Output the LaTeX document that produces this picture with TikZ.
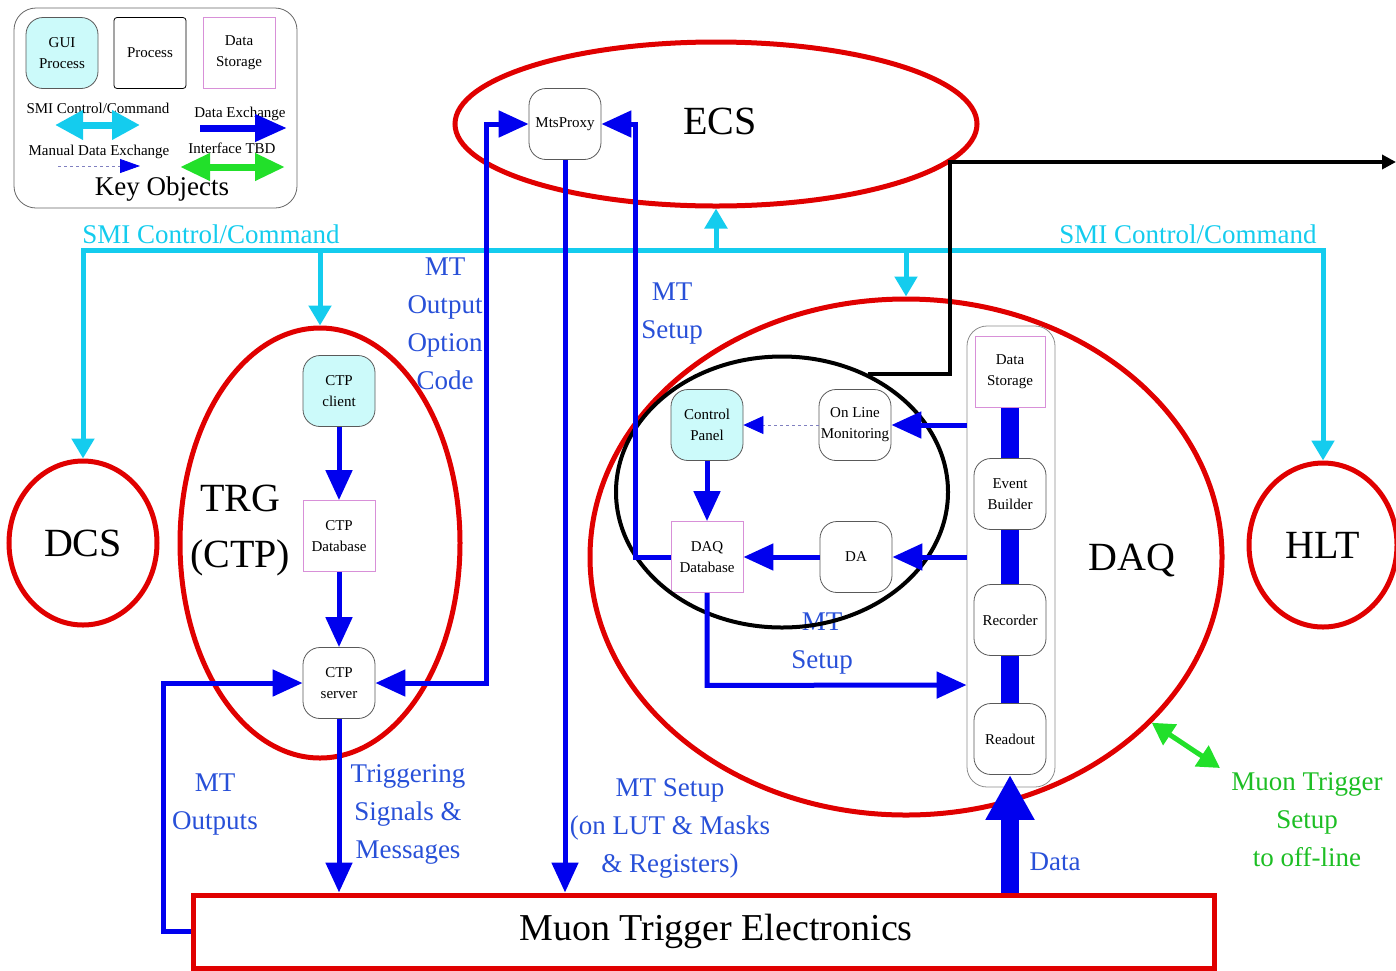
\documentclass[tikz,border=0pt]{standalone}
\usepackage{fontspec}
\setmainfont{Liberation Serif}
\usetikzlibrary{arrows.meta,shapes.geometric}
\definecolor{mtblue}{HTML}{0000EE}
\definecolor{lblue}{HTML}{2850D8}
\definecolor{smicyan}{HTML}{14CCEE}
\definecolor{sysred}{HTML}{E00000}
\definecolor{tbdgreen}{HTML}{22E02A}
\definecolor{guicyan}{HTML}{CCFAFA}
\definecolor{storepink}{HTML}{D890D8}
\definecolor{manualgray}{HTML}{8080C0}

\begin{document}
\begin{tikzpicture}[x=1pt, y=-1pt,
    proc/.style={draw=black!65, line width=0.8pt, rounded corners=17pt, fill=white, align=center,
                 minimum width=72pt, minimum height=71pt, inner sep=1pt, font=\fontsize{15}{21}\selectfont},
    gui/.style={proc, fill=guicyan},
    store/.style={proc, draw=storepink, rounded corners=0pt},
    system/.style={ellipse, draw=sysred, line width=5pt, inner sep=0pt, font=\fontsize{40}{56}\selectfont},
    flow/.style={draw=mtblue, line width=5pt, -{Triangle[length=30pt,width=26pt]}},
    twoflow/.style={flow, {Triangle[length=30pt,width=26pt]}-{Triangle[length=30pt,width=26pt]}},
    manual/.style={draw=manualgray, line width=0.8pt, dashed, -{Triangle[length=20pt,width=18pt,color=mtblue]}},
    smi/.style={draw=smicyan, line width=5pt, -{Triangle[length=20pt,width=22pt]}},
    smibusline/.style={smi, {Triangle[length=20pt,width=22pt]}-{Triangle[length=20pt,width=22pt]}},
    bar/.style={draw=mtblue, line width=18pt},
    dataflow/.style={draw=mtblue, line width=18pt, -{Triangle[length=45pt,width=46pt]}},
    tbd/.style={draw=tbdgreen, line width=5pt, {Triangle[length=22pt,width=24pt]}-{Triangle[length=22pt,width=24pt]}},
    export/.style={draw=black, line width=4pt, -{Triangle[length=14pt,width=14pt]}},
    bluetext/.style={text=lblue, align=center, font=\fontsize{27}{38}\selectfont},
    bigtext/.style={align=center, font=\fontsize{40}{56}\selectfont},
    keytext/.style={font=\fontsize{15}{18}\selectfont}
  ]
    \useasboundingbox (0,0) rectangle (1396,970);

    % key objects
    \node[draw=black!60, line width=0.8pt, rounded corners=22pt, minimum width=283pt, minimum height=200pt] (keybox) at (155.5,108) {};
    \node[gui] (keygui) at (62,53) {GUI\\Process};
    \node[proc, draw=black, rounded corners=3pt] (keyproc) at (150,53) {Process};
    \node[store] (keystore) at (239,53) {Data\\Storage};
    \node[keytext] (keysmi) at (98,108) {SMI Control/Command};
    \node[keytext] (keydata) at (240,114) {Data Exchange};
    \node[keytext] (keyman) at (99,152) {Manual Data Exchange};
    \node[keytext] (keytbd) at (232,148) {Interface TBD};
    \node[font=\fontsize{27}{30}\selectfont] (keytitle) at (162,189) {Key Objects};
    \coordinate (ks1) at (55,125);  \coordinate (ks2) at (140,125);
    \coordinate (kd1) at (200,128); \coordinate (kd2) at (287,128);
    \coordinate (km1) at (58,166);  \coordinate (km2) at (140,166);
    \coordinate (kt1) at (180,167); \coordinate (kt2) at (285,167);
    \draw[draw=smicyan, line width=7pt, {Triangle[length=28pt,width=28pt]}-{Triangle[length=28pt,width=28pt]}] (ks1) -- (ks2);
    \draw[draw=mtblue, line width=7pt, -{Triangle[length=32pt,width=26pt]}] (kd1) -- (kd2);
    \draw[draw=manualgray, line width=0.8pt, dashed, -{Triangle[length=20pt,width=14pt,color=mtblue]}] (km1) -- (km2);
    \draw[draw=tbdgreen, line width=7pt, {Triangle[length=30pt,width=26pt]}-{Triangle[length=30pt,width=26pt]}] (kt1) -- (kt2);

    % systems
    \node[system, minimum width=522pt, minimum height=164pt] (ecs) at (716,124) {};
    \node[bigtext] (ecslabel) at (720,121) {ECS};
    \node[system, minimum width=148pt, minimum height=164pt] (dcs) at (83,543) {DCS};
    \node[system, minimum width=148pt, minimum height=164pt] (hlt) at (1323,545) {HLT};
    \node[system, minimum width=280pt, minimum height=430pt] (trg) at (320,543) {};
    \node[bigtext] (trglabel) at (240,531) {TRG\\(CTP)};
    \node[system, minimum width=632pt, minimum height=516pt] (daq) at (906,557) {};
    \node[bigtext] (daqlabel) at (1132,560) {DAQ};
    \node[draw=sysred, line width=5pt, fill=white, minimum width=1021pt, minimum height=73pt, inner sep=0pt] (mte) at (703.5,931.5) {};
    \node[font=\fontsize{38}{40}\selectfont] (mtelabel) at (716,931.5) {Muon Trigger Electronics};

    % processes
    \node[proc] (mtsproxy) at (565,124) {MtsProxy};
    \node[gui] (ctpclient) at (339,391) {CTP\\client};
    \node[store] (ctpdb) at (339,536) {CTP\\Database};
    \node[proc] (ctpserver) at (339,683) {CTP\\server};

    \node[proc, draw=black!45, fill=none, rounded corners=20pt, minimum width=88pt, minimum height=461pt] (daqcol) at (1011,556.5) {};
    \node[store, minimum width=70pt] (dstor) at (1010,372) {Data\\Storage};
    \node[proc] (evb) at (1010,494) {Event\\Builder};
    \node[proc] (rec) at (1010,620) {Recorder};
    \node[proc] (rdo) at (1010,739) {Readout};

    \node[gui] (cpanel) at (707,425) {Control\\Panel};
    \node[proc] (olm) at (855,425) {On Line\\Monitoring};
    \node[store] (daqdb) at (707,557) {DAQ\\Database};
    \node[proc] (da) at (856,557) {DA};

    % labels
    \node[text=smicyan, font=\fontsize{27}{30}\selectfont] (smileft) at (211,234) {SMI Control/Command};
    \node[text=smicyan, font=\fontsize{27}{30}\selectfont] (smiright) at (1188,234) {SMI Control/Command};
    \node[bluetext] (optlabel) at (445,323.5) {MT\\Output\\Option\\Code};
    \node[bluetext] (setuplabel) at (672,314) {MT\\Setup};
    \node[bluetext] (outlabel) at (215,805) {MT\\Outputs};
    \node[bluetext] (triglabel) at (408,814) {Triggering\\Signals \&\\Messages};
    \node[bluetext] (lutlabel) at (670,828) {MT Setup\\(on LUT \& Masks\\\& Registers)};
    \node[bluetext] (dbsetuplabel) at (822,644) {MT\\Setup};
    \node[bluetext] (datalabel) at (1055,862) {Data};
    \node[text=tbdgreen!85!black, align=center, font=\fontsize{27}{38}\selectfont] (offlabel) at (1307,820) {Muon Trigger\\Setup\\to off-line};

    \node[ellipse, draw=black, line width=4pt, minimum width=332pt, minimum height=271pt, inner sep=0pt] (monzone) at (782,492) {};

    % SMI control
    \coordinate (smibus) at (700,250);
    \draw[smibusline] (dcs.north) |- (smibus) -| (hlt.north);
    \draw[smi] (trg.north |- smibus) -- (trg.north);
    \draw[smi] (ecs.south |- smibus) -- (ecs.south);
    \draw[smi] (daq.north |- smibus) -- (daq.north);

    % data exchange
    \draw[flow] (ctpclient) -- (ctpdb);
    \draw[flow] (ctpdb) -- (ctpserver);
    \draw[flow] (ctpserver.south) -- (ctpserver.south |- mte.north);
    \draw[flow] (mte.west) -- ++(-27,0) |- (ctpserver.west);
    \draw[twoflow] (ctpserver.east) -- ++(111,0) |- (mtsproxy.west);
    \draw[flow] (daqdb.west) -- ++(-35,0) |- (mtsproxy.east);
    \draw[flow] (mtsproxy.south) -- (mtsproxy.south |- mte.north);
    \draw[flow] (cpanel) -- (daqdb);
    \draw[flow] (da) -- (daqdb);
    \draw[flow] (daqcol.west |- olm.east) -- (olm.east);
    \draw[flow] (daqcol.west |- da.east) -- (da.east);
    \draw[flow] (daqdb.south) -- ++(0,92.5) -- (daqcol.west |- 0,685);
    \draw[manual] (olm.west) -- (cpanel.east);
    \draw[bar] (dstor.south) -- (evb.north);
    \draw[bar] (evb.south) -- (rec.north);
    \draw[bar] (rec.south) -- (rdo.north);
    \draw[dataflow] (mte.north -| rdo.south) -- (rdo.south);

    % off-line
    \coordinate (offl) at (1220,768);
    \draw[tbd] (daq.-34) -- (offl);
    \coordinate (offsite) at (1396,162);
    \draw[export] (monzone.54) -- ++(82,0) |- (offsite);
\end{tikzpicture}
\end{document}
